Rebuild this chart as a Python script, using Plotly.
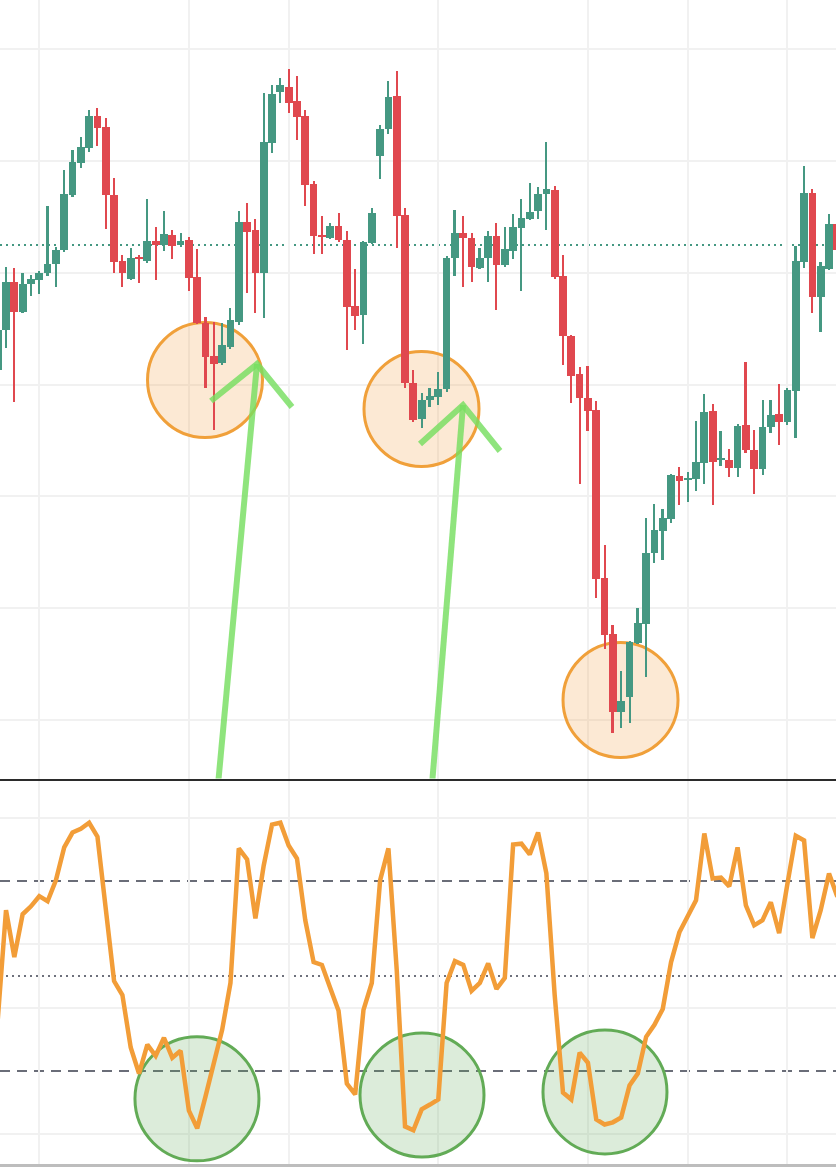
import plotly.graph_objects as go

# ---------------- data ----------------
opens = [135.0, 139.0, 143.8, 140.8, 143.6, 144.0, 144.7, 145.6, 147.0, 152.5,
         155.7, 157.2, 160.4, 159.3, 152.5, 145.9, 144.1, 146.3, 145.9, 147.9,
         147.5, 148.5, 147.5, 148.0, 144.3, 139.7, 136.4, 135.7, 137.3, 139.8,
         149.8, 149.0, 144.7, 157.7, 162.8, 163.3, 161.9, 160.4, 153.6, 148.5,
         148.2, 149.4, 148.0, 141.4, 140.5, 147.7, 156.4, 159.1, 162.4, 150.5,
         133.7, 130.1, 132.0, 132.3, 133.1, 146.2, 148.7, 148.2, 145.2, 146.2,
         148.4, 145.5, 146.9, 149.2, 150.1, 150.9, 152.6, 153.0, 144.4, 138.4,
         134.6, 132.2, 131.0, 114.2, 108.6, 100.8, 102.3, 107.7, 109.6, 116.7,
         118.9, 120.1, 124.4, 124.0, 124.1, 125.7, 130.9, 126.0, 126.0, 125.2,
         129.5, 127.0, 125.1, 129.3, 130.6, 129.8, 132.9, 145.8, 152.7, 142.3,
         145.1, 149.6]
highs = [139.5, 145.3, 145.2, 144.7, 144.5, 144.9, 151.4, 147.3, 155.0, 157.0,
         158.3, 161.0, 161.2, 160.2, 154.2, 146.5, 147.2, 146.5, 152.1, 149.3,
         150.9, 149.0, 148.7, 148.3, 147.1, 140.3, 139.8, 139.7, 141.2, 150.9,
         151.7, 150.1, 162.7, 163.5, 164.2, 165.1, 164.4, 161.0, 153.9, 150.4,
         149.7, 150.7, 148.9, 145.1, 147.9, 151.2, 159.5, 163.9, 164.9, 151.2,
         135.0, 132.7, 133.2, 134.8, 146.4, 151.0, 150.4, 148.7, 147.2, 148.9,
         149.7, 149.3, 150.6, 152.1, 153.7, 153.3, 157.8, 153.4, 146.5, 138.5,
         135.3, 135.4, 131.9, 117.5, 109.5, 104.9, 107.9, 111.2, 120.2, 121.6,
         121.1, 124.6, 125.3, 124.8, 129.9, 132.6, 131.6, 128.9, 127.1, 129.6,
         135.8, 129.0, 132.0, 132.0, 133.6, 133.2, 147.4, 155.4, 153.1, 145.8,
         150.6, 150.0]
lows = [134.8, 137.2, 131.8, 140.7, 142.4, 142.6, 144.4, 143.3, 146.8, 152.3,
        155.2, 156.8, 157.4, 149.1, 144.7, 143.3, 144.0, 143.7, 145.7, 144.0,
        146.9, 146.1, 147.3, 142.9, 139.6, 133.2, 129.0, 135.5, 137.1, 139.5,
        142.7, 140.7, 140.2, 156.7, 161.7, 160.7, 158.0, 151.4, 146.6, 146.6,
        148.1, 147.8, 137.0, 139.0, 137.6, 147.6, 154.1, 158.6, 147.2, 133.2,
        129.8, 129.2, 131.3, 131.5, 132.8, 144.4, 143.3, 143.8, 145.1, 143.8,
        141.0, 145.3, 146.1, 142.9, 150.0, 150.1, 149.0, 144.1, 135.5, 131.7,
        123.6, 128.9, 112.2, 107.1, 98.7, 99.2, 99.7, 107.6, 104.3, 115.7,
        116.0, 119.7, 121.5, 121.8, 122.9, 123.6, 121.5, 125.4, 124.3, 124.3,
        126.7, 122.6, 124.5, 128.7, 127.5, 129.5, 128.2, 145.2, 140.7, 138.8,
        145.0, 146.5]
closes = [139.0, 143.8, 140.8, 143.6, 144.1, 144.7, 145.6, 147.0, 152.6, 155.8,
          157.3, 160.4, 159.2, 152.5, 145.8, 144.7, 146.2, 146.1, 147.9, 147.5,
          148.6, 147.4, 147.9, 144.2, 139.7, 136.3, 135.6, 137.5, 140.0, 149.8,
          148.8, 144.7, 157.8, 162.6, 163.5, 161.7, 160.3, 153.5, 148.4, 148.3,
          149.4, 148.0, 141.3, 140.4, 147.8, 150.7, 159.1, 162.3, 150.4, 133.7,
          130.0, 132.0, 132.4, 133.1, 146.2, 148.7, 148.2, 145.3, 146.2, 148.4,
          145.5, 147.1, 149.3, 150.2, 150.8, 152.6, 153.1, 144.3, 138.4, 134.4,
          132.2, 130.9, 114.1, 108.5, 100.8, 101.9, 107.8, 109.7, 116.7, 119.0,
          120.2, 124.5, 123.9, 124.2, 125.8, 130.8, 125.8, 126.2, 125.2, 129.4,
          127.0, 125.1, 129.3, 130.5, 129.8, 133.0, 145.9, 152.7, 142.3, 145.4,
          149.6, 147.0]
stoch = [36, 70.8, 56, 69.5, 72, 75.2, 73.6, 80.2, 90.6, 95.3,
         96.5, 98.4, 94, 71.4, 48.4, 44, 27.4, 19.2, 28.3, 24.8,
         30.5, 24.2, 26.4, 7.5, 1.9, 12, 22, 33, 47.8, 90.3,
         86.8, 68.2, 84.9, 97.8, 98.4, 91.2, 87.1, 67.6, 54.4, 53.5,
         46.2, 39, 16, 12.6, 39.3, 47.8, 80.2, 90.3, 51.9, 2.5,
         1.3, 7.9, 9.4, 11, 47.8, 54.7, 53.5, 45.3, 47.8, 54,
         45.9, 49.4, 91.5, 91.8, 88.4, 95.3, 82.4, 44, 13.2, 11,
         25.8, 22.6, 4.7, 3.1, 3.8, 5.3, 15.4, 19.2, 30.8, 34.6,
         39.6, 54.4, 63.8, 69.2, 73.9, 95, 80.8, 81.1, 78.3, 90.6,
         72.3, 66, 67.6, 73.3, 63.5, 79.2, 94.3, 92.8, 62, 70.8,
         82.4, 75]
grid_x = [5, 23, 35, 53, 71, 83, 95]          # vertical gridline candle positions
osc_grid = [0, 40, 60, 100]                    # oscillator gridlines (80/20 carry level lines)
ref_price = 147.5                              # dotted reference price
osc_upper, osc_mid, osc_lower = 80, 50, 20     # oscillator levels

# highlight circles: (candle index, value)
price_circles = [(24.94, 134.0), (50.98, 131.1), (74.92, 102.0)]
osc_circles = [(23.97, 11.2), (51.04, 12.4), (73.05, 13.4)]
# arrows: tail, apex, left barb, right barb (candle index, price)
arrows = [
    [(26.5, 93.5), (31.19, 135.6), (25.66, 131.9), (35.4, 131.3)],
    [(52.24, 93.5), (55.97, 131.5), (50.8, 127.6), (60.42, 126.9)],
]

# ---------------- style ----------------
W, H = 836, 1168
GREEN = "#459882"
RED = "#e0484f"
ORANGE = "#f29d38"
X_RANGE = [0.277, 100.84]
PRICE_RANGE = [94.15, 172.0]
OSC_RANGE = [-9.37, 111.58]
TOP_DOM = [(H - 778.5) / H, 1.0]
BOT_DOM = [(H - 1164) / H, (H - 781) / H]

n = len(opens)
idx = list(range(n))
cols = [GREEN if c >= o else RED for o, c in zip(opens, closes)]
body_base = [min(o, c) for o, c in zip(opens, closes)]
body_h = [max(abs(c - o), 0.2) for o, c in zip(opens, closes)]
wick_h = [h - l for h, l in zip(highs, lows)]

fig = go.Figure()
fig.add_trace(go.Bar(x=idx, y=wick_h, base=lows, width=0.24,
                     marker=dict(color=cols, line=dict(width=0)),
                     xaxis="x", yaxis="y", showlegend=False, hoverinfo="skip"))
fig.add_trace(go.Bar(x=idx, y=body_h, base=body_base, width=0.93,
                     marker=dict(color=cols, line=dict(width=0)),
                     xaxis="x", yaxis="y", showlegend=False))
fig.add_trace(go.Scatter(x=idx, y=stoch, mode="lines",
                         line=dict(color=ORANGE, width=4.5),
                         xaxis="x2", yaxis="y2", showlegend=False))

for a in arrows:
    tail, apex, left, right = a
    fig.add_trace(go.Scatter(
        x=[tail[0], apex[0], None, left[0], apex[0], right[0]],
        y=[tail[1], apex[1], None, left[1], apex[1], right[1]],
        mode="lines", line=dict(color="rgba(118,222,96,0.82)", width=6),
        xaxis="x", yaxis="y", showlegend=False, connectgaps=False))


def circle(xc, yc, r_px, xref, yref, rng, dom, fill, line):
    px_x = W / (X_RANGE[1] - X_RANGE[0])
    px_y = (dom[1] - dom[0]) * H / (rng[1] - rng[0])
    rx, ry = r_px / px_x, r_px / px_y
    return dict(type="circle", xref=xref, yref=yref, x0=xc - rx, x1=xc + rx,
                y0=yc - ry, y1=yc + ry, fillcolor=fill,
                line=dict(color=line, width=3), layer="between")


shapes = []
for (xc, yc) in price_circles:
    shapes.append(circle(xc, yc, 57.5, "x", "y", PRICE_RANGE, TOP_DOM,
                         "rgba(240,150,50,0.21)", "#f0a03a"))
for (xc, yc) in osc_circles:
    shapes.append(circle(xc, yc, 62, "x2", "y2", OSC_RANGE, BOT_DOM,
                         "rgba(96,170,85,0.22)", "#62ab56"))
shapes.append(dict(type="line", xref="paper", yref="y", x0=0, x1=1,
                   y0=ref_price, y1=ref_price, layer="between",
                   line=dict(color=GREEN, width=2, dash="2px,4px")))
for lvl in (osc_upper, osc_lower):
    shapes.append(dict(type="line", xref="paper", yref="y2", x0=0, x1=1,
                       y0=lvl, y1=lvl, layer="between",
                       line=dict(color="#6a6d78", width=2, dash="10px,7px")))
shapes.append(dict(type="line", xref="paper", yref="y2", x0=0, x1=1,
                   y0=osc_mid, y1=osc_mid, layer="between",
                   line=dict(color="#6e717c", width=2, dash="2px,4px")))

grid_col = "#f1f1f1"
xcommon = dict(range=X_RANGE, tickmode="array", tickvals=grid_x,
               showticklabels=False, ticks="", showgrid=True,
               gridcolor=grid_col, gridwidth=2, zeroline=False, fixedrange=True)
fig.update_layout(
    width=W, height=H,
    margin=dict(l=0, r=0, t=0, b=0),
    paper_bgcolor="white", plot_bgcolor="white",
    barmode="overlay", bargap=0,
    shapes=shapes,
    xaxis=dict(domain=[0, 1], anchor="y", showline=True, linecolor="#2b2b2b",
               linewidth=2, **xcommon),
    yaxis=dict(domain=TOP_DOM, anchor="x", range=PRICE_RANGE, tick0=100,
               dtick=11.183, showticklabels=False, ticks="", showgrid=True,
               gridcolor=grid_col, gridwidth=2, zeroline=False),
    xaxis2=dict(domain=[0, 1], anchor="y2", showline=True, linecolor="#bdbdbd",
                linewidth=3, **xcommon),
    yaxis2=dict(domain=BOT_DOM, anchor="x2", range=OSC_RANGE,
                tickmode="array", tickvals=osc_grid,
                showticklabels=False, ticks="", showgrid=True,
                gridcolor=grid_col, gridwidth=2, zeroline=False),
)

fig.write_html("out.html",
               config={"displayModeBar": False},
               post_script="document.body.style.margin='0';"
                           "document.body.style.overflow='hidden';")
